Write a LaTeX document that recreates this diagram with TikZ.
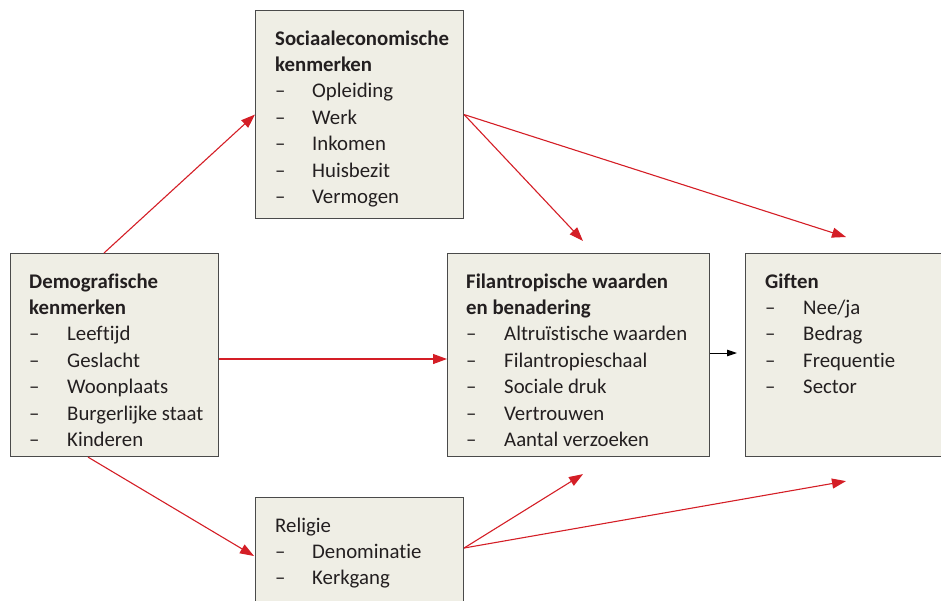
\documentclass[tikz,border=0pt]{standalone}
\usepackage{fontspec}
\setmainfont{Carlito}[Ligatures=NoCommon]
\usetikzlibrary{arrows.meta,calc}
\definecolor{boxfill}{HTML}{EFEEE5}
\definecolor{boxline}{HTML}{4A4A4A}
\definecolor{arrred}{HTML}{D41E26}
\definecolor{txt}{HTML}{231F20}
\tikzset{
  box/.style={draw=boxline, line width=1.1pt, fill=boxfill, anchor=north west, inner sep=0pt},
  ttl/.style={anchor=base west, inner sep=0pt, text=txt, font=\fontsize{20.8}{24}\selectfont\bfseries},
  itm/.style={anchor=base west, inner sep=0pt, text=txt, font=\fontsize{20.8}{24}\selectfont},
  redarr/.style={draw=arrred, line width=1.1pt, -{Triangle[length=14pt,width=10pt]}, arrred},
  blkarr/.style={draw=black, line width=1pt, -{Triangle[length=10pt,width=6.5pt]}},
}
\begin{document}
\begin{tikzpicture}[x=1pt,y=-1pt]
\useasboundingbox (0,0) rectangle (941,600);
% boxes
\node[box, minimum width=208pt, minimum height=203pt] (demo) at (10,253) {};
\node[box, minimum width=208pt, minimum height=208pt] (socio) at (255,10) {};
\node[box, minimum width=262pt, minimum height=203pt] (filan) at (447,253) {};
\node[box, minimum width=210pt, minimum height=203pt] (gift) at (745,253) {};
\node[box, minimum width=208pt, minimum height=120pt] (relig) at (255,497) {};
% Demografische
\node[ttl] (demo-t1) at (29,288) {Demografische};
\node[ttl] (demo-t2) at (29,314.4) {kenmerken};
\foreach \t [count=\i] in {Leeftijd,Geslacht,Woonplaats,Burgerlijke staat,Kinderen}{
  \node[itm] (demo-d\i) at (29,{314.4+26.4*\i}) {–};
  \node[itm] (demo-i\i) at (67,{314.4+26.4*\i}) {\t};
}
% Sociaaleconomische
\node[ttl] (socio-t1) at (275,45) {Sociaaleconomische};
\node[ttl] (socio-t2) at (275,71.4) {kenmerken};
\foreach \t [count=\i] in {Opleiding,Werk,Inkomen,Huisbezit,Vermogen}{
  \node[itm] (socio-d\i) at (275,{71.4+26.4*\i}) {–};
  \node[itm] (socio-i\i) at (312,{71.4+26.4*\i}) {\t};
}
% Filantropische
\node[ttl] (filan-t1) at (466,288) {Filantropische waarden};
\node[ttl] (filan-t2) at (466,314.4) {en benadering};
\foreach \t [count=\i] in {Altruïstische waarden,Filantropieschaal,Sociale druk,Vertrouwen,Aantal verzoeken}{
  \node[itm] (filan-d\i) at (466,{314.4+26.4*\i}) {–};
  \node[itm] (filan-i\i) at (504,{314.4+26.4*\i}) {\t};
}
% Giften
\node[ttl] (gift-t1) at (765,288) {Giften};
\foreach \t [count=\i] in {Nee/ja,Bedrag,Frequentie,Sector}{
  \node[itm] (gift-d\i) at (765,{288+26.4*\i}) {–};
  \node[itm] (gift-i\i) at (803,{288+26.4*\i}) {\t};
}
% Religie
\node[itm] (relig-t1) at (275,532) {Religie};
\foreach \t [count=\i] in {Denominatie,Kerkgang}{
  \node[itm] (relig-d\i) at (275,{532+26.4*\i}) {–};
  \node[itm] (relig-i\i) at (312,{532+26.4*\i}) {\t};
}
% connector points
\coordinate (demoTop) at ($(demo.north west)+(94,0)$);
\coordinate (demoRight) at ($(demo.north east)+(0,106)$);
\coordinate (demoBot) at ($(demo.south west)+(78,0)$);
\coordinate (filanIn) at ($(filan.north west)+(0,106)$);
\coordinate (religIn) at ($(relig.north west)+(-1,59)$);
\coordinate (religOut) at ($(relig.north east)+(0,51)$);
\coordinate (filanTopT) at ($(filan.north west)+(136,-12)$);
\coordinate (filanBotT) at ($(filan.south west)+(136,17)$);
\coordinate (giftTopT) at ($(gift.north west)+(101,-16)$);
\coordinate (giftBotT) at ($(gift.south west)+(101,24)$);
\coordinate (filanOut) at ($(filan.north east)+(0,100)$);
\coordinate (giftIn) at ($(gift.north west)+(-8,100)$);
% connectors
\draw[redarr] (demoTop) -- (socio.west);
\draw[redarr] (demoRight) -- (filanIn);
\draw[redarr] (demoBot) -- (religIn);
\draw[redarr] (socio.east) -- (filanTopT);
\draw[redarr] (socio.east) -- (giftTopT);
\draw[redarr] (religOut) -- (filanBotT);
\draw[redarr] (religOut) -- (giftBotT);
\draw[blkarr] (filanOut) -- (giftIn);
\end{tikzpicture}
\end{document}
